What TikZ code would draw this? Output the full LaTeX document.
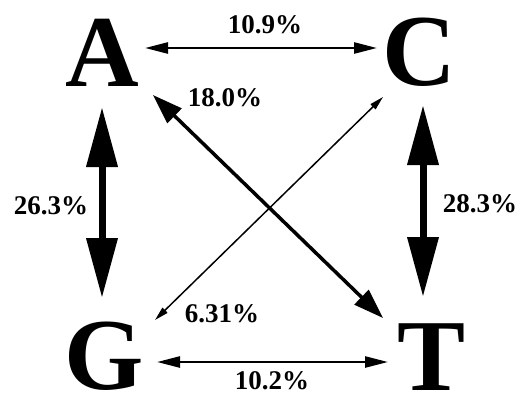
\documentclass[tikz,border=0pt]{standalone}
\usepackage{fontspec}
\setmainfont{Liberation Serif}
\usetikzlibrary{arrows.meta}
\begin{document}
\begin{tikzpicture}[x=1pt,y=-1pt,
  letter/.style={font=\fontsize{102}{102}\selectfont\bfseries, inner sep=0pt},
  pct/.style={font=\fontsize{27}{27}\selectfont\bfseries, inner sep=0pt},
  thinarr/.style={line width=2.5pt, {Triangle[length=23pt,width=11pt]}-{Triangle[length=23pt,width=11pt]}},
  thickarr/.style={line width=7pt, {Triangle[length=60pt,width=30pt]}-{Triangle[length=60pt,width=30pt]}},
  diagarr/.style={line width=3.5pt, {Triangle[length=30pt,width=20pt]}-{Triangle[length=30pt,width=20pt]}},
  fine/.style={line width=1.5pt, {Triangle[length=14pt,width=7pt]}-{Triangle[length=14pt,width=7pt]}}
]
\useasboundingbox (0,0) rectangle (521,394);
\node[letter] (A) at (102.5,53) {A};
\node[letter] (C) at (419.5,52) {C};
\node[letter] (G) at (104,356) {G};
\node[letter] (T) at (431.5,357) {T};
% arrow ends
\coordinate (AC1) at (145,48);  \coordinate (AC2) at (377,48);
\coordinate (GT1) at (157,362); \coordinate (GT2) at (388,362);
\coordinate (AG1) at (102,107); \coordinate (AG2) at (102,298);
\coordinate (CT1) at (423,105); \coordinate (CT2) at (423,297);
\coordinate (AT1) at (153,95);  \coordinate (AT2) at (383,318);
\coordinate (GC1) at (155,320); \coordinate (GC2) at (383,97);
\draw[thinarr] (AC1) -- (AC2);
\draw[thinarr] (GT1) -- (GT2);
\draw[thickarr] (AG1) -- (AG2);
\draw[thickarr] (CT1) -- (CT2);
\draw[diagarr] (AT1) -- (AT2);
\draw[fine] (GC1) -- (GC2);
% labels
\node[pct] (lAC) at (265,25) {10.9\%};
\node[pct] (lAT) at (225,98) {18.0\%};
\node[pct] (lAG) at (51,206) {26.3\%};
\node[pct] (lCT) at (480,204) {28.3\%};
\node[pct] (lGC) at (222,314) {6.31\%};
\node[pct] (lGT) at (272,381) {10.2\%};
\end{tikzpicture}
\end{document}
